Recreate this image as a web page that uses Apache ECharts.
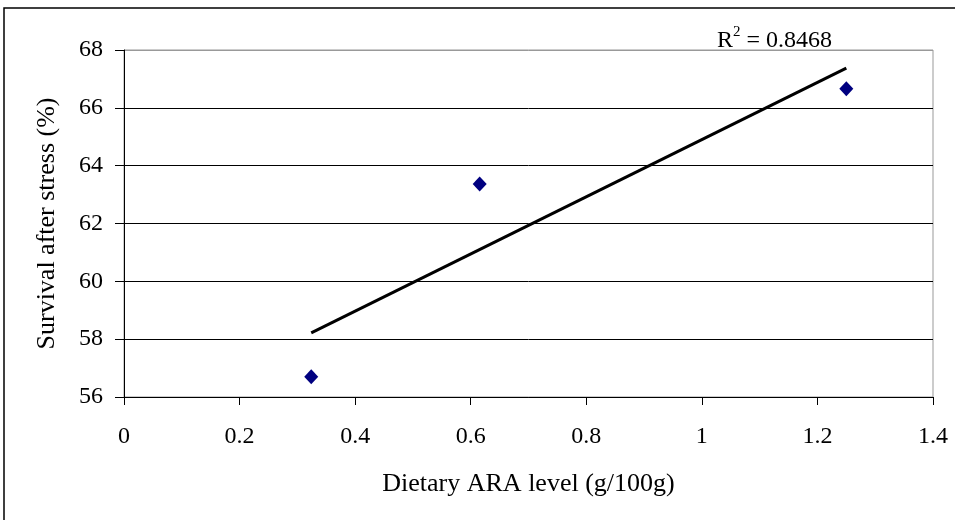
<!DOCTYPE html>
<html>
<head>
<meta charset="utf-8">
<script src="https://cdn.jsdelivr.net/npm/echarts@6/dist/echarts.min.js"></script>
<style>
  html, body { margin: 0; padding: 0; background: #fff; }
  #main { width: 955px; height: 520px; }
</style>
</head>
<body>
<div id="main"></div>
<script>
// measured points: dietary ARA level vs survival
const araLevel = [0.324, 0.6155, 1.25]
const survival = [56.7, 63.37, 66.66]
// linear trend line ends, as drawn
const trendX = [0.324, 1.25]
const trendY = [58.22, 67.37]
const rSquared = '0.8468'

const font = '"Liberation Serif", "Times New Roman", serif'

const chart = echarts.init(document.getElementById('main'))

const option = {
  animation: false,
  backgroundColor: '#fff',
  grid: {
    left: 124,
    right: 22,
    top: 50,
    bottom: 123,
    show: true,
    borderColor: '#999',
    borderWidth: 1
  },
  xAxis: {
    type: 'value',
    min: 0,
    max: 1.4,
    interval: 0.2,
    name: 'Dietary ARA level (g/100g)',
    nameLocation: 'middle',
    nameGap: 74,
    nameTextStyle: { fontFamily: font, fontSize: 26, color: '#000' },
    axisLine: { show: true, lineStyle: { color: '#000', width: 1 } },
    axisTick: { show: true, inside: false, length: 8, lineStyle: { color: '#000' } },
    axisLabel: {
      fontFamily: font,
      fontSize: 24,
      color: '#000',
      margin: 28,
      formatter: v => String(Math.round(v * 10) / 10)
    },
    splitLine: { show: false }
  },
  yAxis: {
    type: 'value',
    min: 56,
    max: 68,
    interval: 2,
    name: 'Survival after stress (%)',
    nameLocation: 'middle',
    nameGap: 64,
    nameTextStyle: { fontFamily: font, fontSize: 26, color: '#000' },
    axisLine: { show: true, lineStyle: { color: '#000', width: 1 } },
    axisTick: { show: true, inside: false, length: 9, lineStyle: { color: '#000' } },
    axisLabel: { fontFamily: font, fontSize: 24, color: '#000', margin: 21 },
    splitLine: {
      show: true,
      lineStyle: {
        color: ['#000', '#000', '#000', '#000', '#000', '#000', '#999'],
        width: 1
      }
    }
  },
  series: [
    {
      name: 'trend',
      type: 'line',
      data: trendX.map((x, i) => [x, trendY[i]]),
      showSymbol: false,
      symbol: 'none',
      lineStyle: { color: '#000', width: 3 },
      z: 3
    },
    {
      name: 'survival',
      type: 'scatter',
      data: araLevel.map((x, i) => [x, survival[i]]),
      symbol: 'diamond',
      symbolSize: [14, 15],
      itemStyle: { color: '#000080', opacity: 1 },
      z: 4
    }
  ],
  graphic: [
    {
      type: 'rect',
      shape: { x: 4, y: 8, width: 1000, height: 600 },
      style: { fill: 'none', stroke: '#000', lineWidth: 1.5 },
      silent: true
    },
    {
      type: 'text',
      left: 717,
      top: 25,
      style: {
        text: '{r|R}{sup|2}{r| = ' + rSquared + '}',
        rich: {
          r: { fontFamily: font, fontSize: 24, fill: '#000', verticalAlign: 'bottom', lineHeight: 28 },
          sup: { fontFamily: font, fontSize: 15, fill: '#000', verticalAlign: 'top', lineHeight: 28 }
        }
      }
    }
  ]
}

chart.setOption(option)
</script>
</body>
</html>
